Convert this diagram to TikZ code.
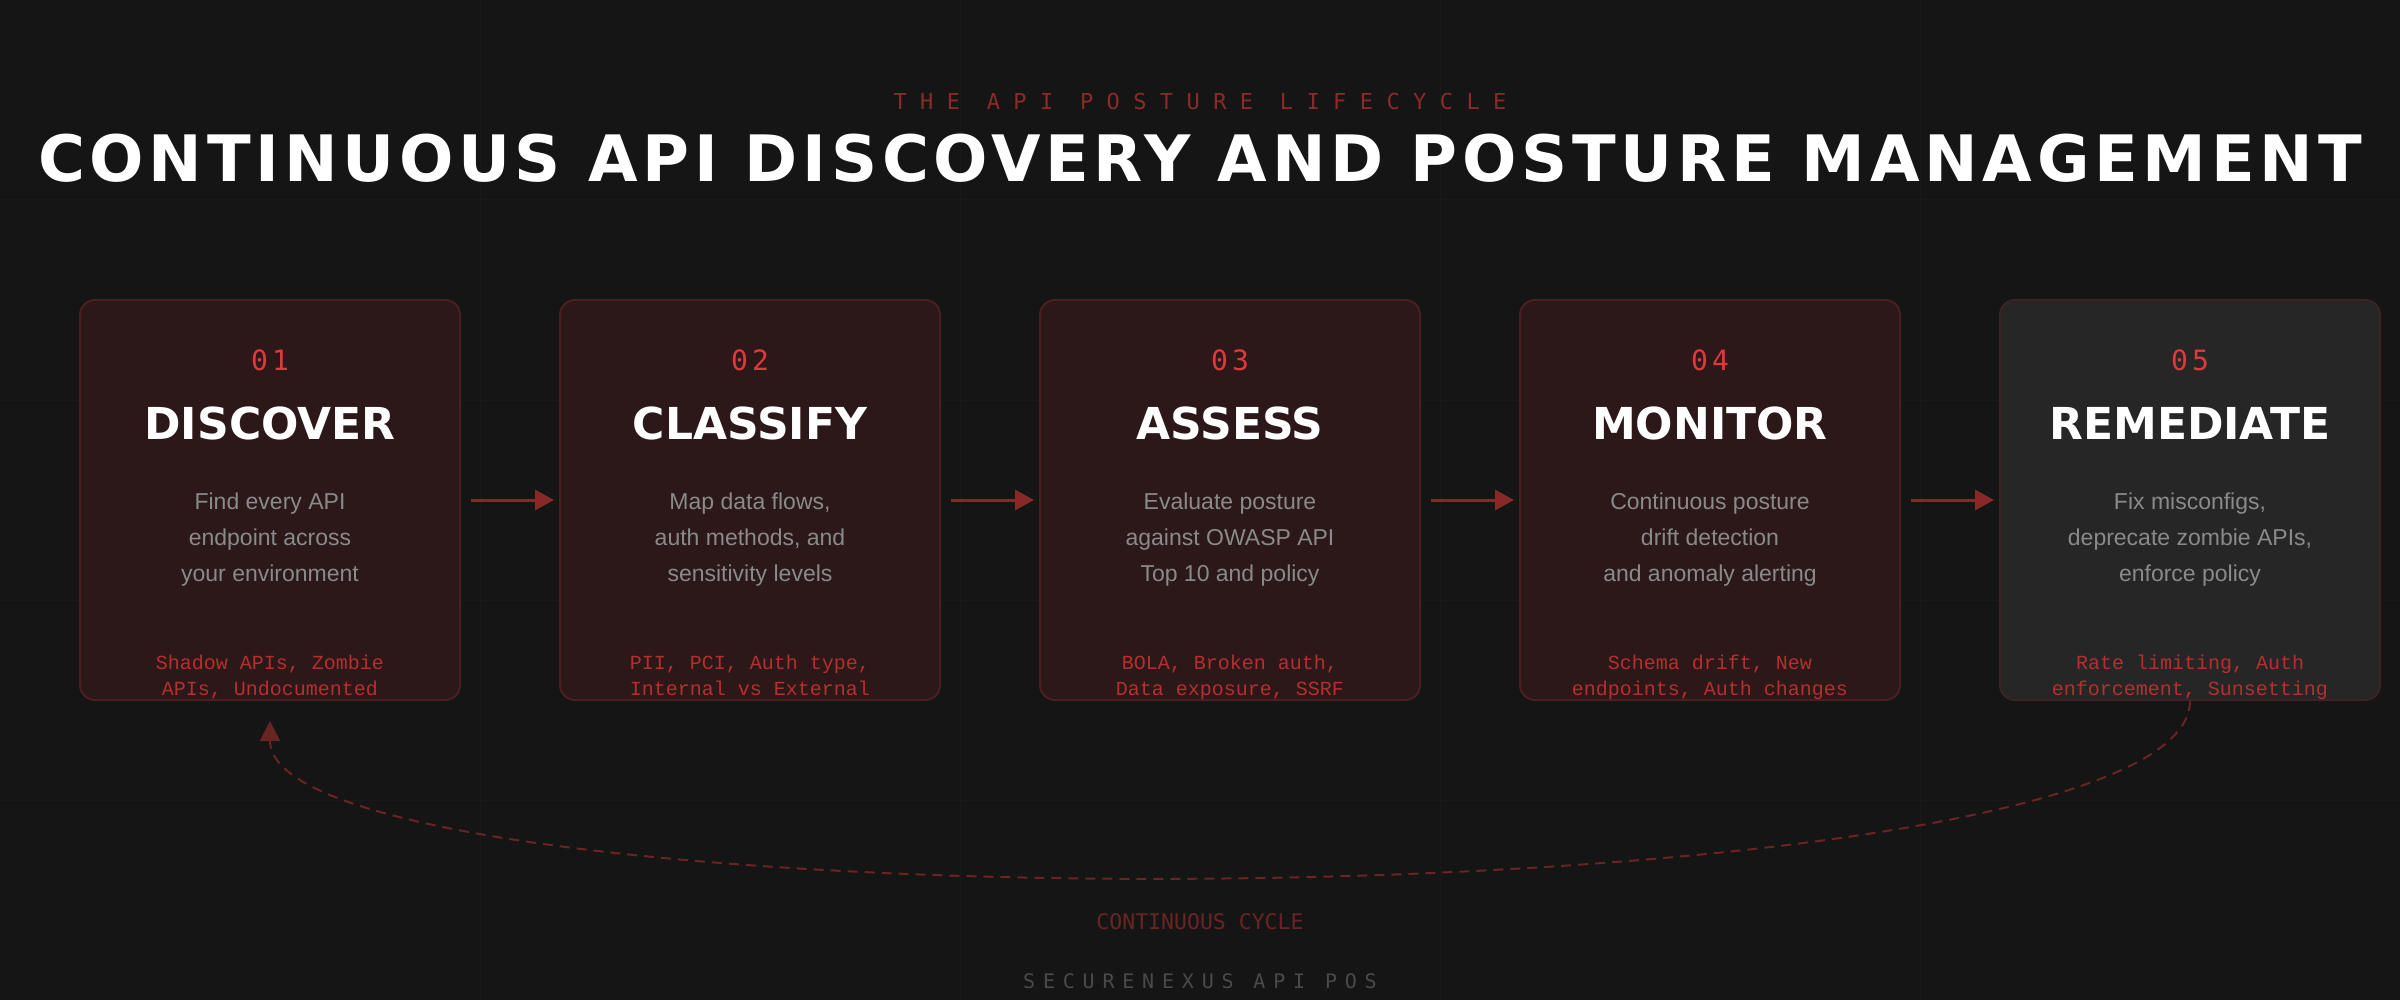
\documentclass[tikz,border=0pt]{standalone}
\usepackage{fontspec}
\usetikzlibrary{arrows.meta}
\newfontfamily\headfont{DejaVu Sans}
\newfontfamily\monofont{DejaVu Sans Mono}
\newfontfamily\tagfont{Liberation Mono}
\newfontfamily\bodyfont{Liberation Sans}
\definecolor{bg}{HTML}{151515}
\definecolor{gridc}{HTML}{1D1717}
\definecolor{cardfill}{HTML}{2C1818}
\definecolor{cardline}{HTML}{4A1F1F}
\definecolor{lastfill}{HTML}{262626}
\definecolor{lastline}{HTML}{3C2424}
\definecolor{numred}{HTML}{E0393C}
\definecolor{descgray}{HTML}{8A8A8A}
\definecolor{tagred}{HTML}{B52F2F}
\definecolor{flowred}{HTML}{8A2828}
\definecolor{subred}{HTML}{8B2A2A}
\definecolor{cyclered}{HTML}{6B2424}
\definecolor{footgray}{HTML}{4A4A4A}
\begin{document}
\begin{tikzpicture}[x=0.5pt,y=-0.5pt,
    card/.style={draw=cardline,fill=cardfill,line width=1pt,rounded corners=7.5pt,minimum width=190pt,minimum height=200pt},
    num/.style={text=numred,font=\monofont\addfontfeature{LetterSpace=15}\fontsize{14}{14}\selectfont},
    stage/.style={text=white,font=\headfont\bfseries\fontsize{22}{22}\selectfont},
    desc/.style={text=descgray,align=center,font=\bodyfont\fontsize{11.5}{18}\selectfont},
    tags/.style={text=tagred,align=center,font=\tagfont\fontsize{10}{13}\selectfont,
        execute at begin node=\strut,execute at end node=\strut},
    flow/.style={draw=flowred,line width=1.5pt,shorten <=5pt,shorten >=2.5pt,-{Triangle[length=9.5pt,width=10pt]}}]
    \fill[bg](0,0)rectangle(2400,1000);
    \useasboundingbox(0,0)rectangle(2400,1000);
    \draw[gridc,line width=0.5pt](480,0)--(480,1000)(960,0)--(960,1000)(1440,0)--(1440,1000)(1920,0)--(1920,1000)
        (0,200)--(2400,200)(0,400)--(2400,400)(0,600)--(2400,600)(0,800)--(2400,800);

    \node[text=subred,font=\monofont\addfontfeature{LetterSpace=61}\fontsize{11}{11}\selectfont](sub)at(1200,101){THE API POSTURE LIFECYCLE};
    \node[text=white,font=\headfont\bfseries\addfontfeature{LetterSpace=7.4}\fontsize{32}{32}\selectfont](head)at(1200,158){CONTINUOUS API DISCOVERY AND POSTURE MANAGEMENT};

    \node[card](c1)at(270,500){};
    \node[card](c2)at(750,500){};
    \node[card](c3)at(1230,500){};
    \node[card](c4)at(1710,500){};
    \node[card,draw=lastline,fill=lastfill](c5)at(2190,500){};

    \node[num](n1)at(270,360){01};
    \node[num](n2)at(750,360){02};
    \node[num](n3)at(1230,360){03};
    \node[num](n4)at(1710,360){04};
    \node[num](n5)at(2190,360){05};

    \node[stage](s1)at(270,423){DISCOVER};
    \node[stage](s2)at(750,423){CLASSIFY};
    \node[stage](s3)at(1230,423){ASSESS};
    \node[stage](s4)at(1710,423){MONITOR};
    \node[stage](s5)at(2190,423){REMEDIATE};

    \node[desc](d1)at(270,540){Find every API\\endpoint across\\your environment};
    \node[desc](d2)at(750,540){Map data flows,\\auth methods, and\\sensitivity levels};
    \node[desc](d3)at(1230,540){Evaluate posture\\against OWASP API\\Top 10 and policy};
    \node[desc](d4)at(1710,540){Continuous posture\\drift detection\\and anomaly alerting};
    \node[desc](d5)at(2190,540){Fix misconfigs,\\deprecate zombie APIs,\\enforce policy};

    \node[tags](g1)at(270,679){Shadow APIs, Zombie\\APIs, Undocumented};
    \node[tags](g2)at(750,679){PII, PCI, Auth type,\\Internal vs External};
    \node[tags](g3)at(1230,679){BOLA, Broken auth,\\Data exposure, SSRF};
    \node[tags](g4)at(1710,679){Schema drift, New\\endpoints, Auth changes};
    \node[tags](g5)at(2190,679){Rate limiting, Auth\\enforcement, Sunsetting};

    \draw[flow](c1.east)--(c2.west);
    \draw[flow](c2.east)--(c3.west);
    \draw[flow](c3.east)--(c4.west);
    \draw[flow](c4.east)--(c5.west);

    \draw[cyclered,line width=1pt,dash pattern=on 5pt off 3.5pt,-{Triangle[length=10pt,width=10pt]}]
        (c5.south)..controls +(0,228) and +(0,212)..([yshift=-10pt]c1.south);

    \node[text=cyclered,font=\monofont\fontsize{10.75}{11}\selectfont](loop)at(1200,922){CONTINUOUS CYCLE};
    \node[text=footgray,font=\monofont\addfontfeature{LetterSpace=39}\fontsize{10}{10}\selectfont](foot)at(1200,981){SECURENEXUS API POS};
\end{tikzpicture}
\end{document}
